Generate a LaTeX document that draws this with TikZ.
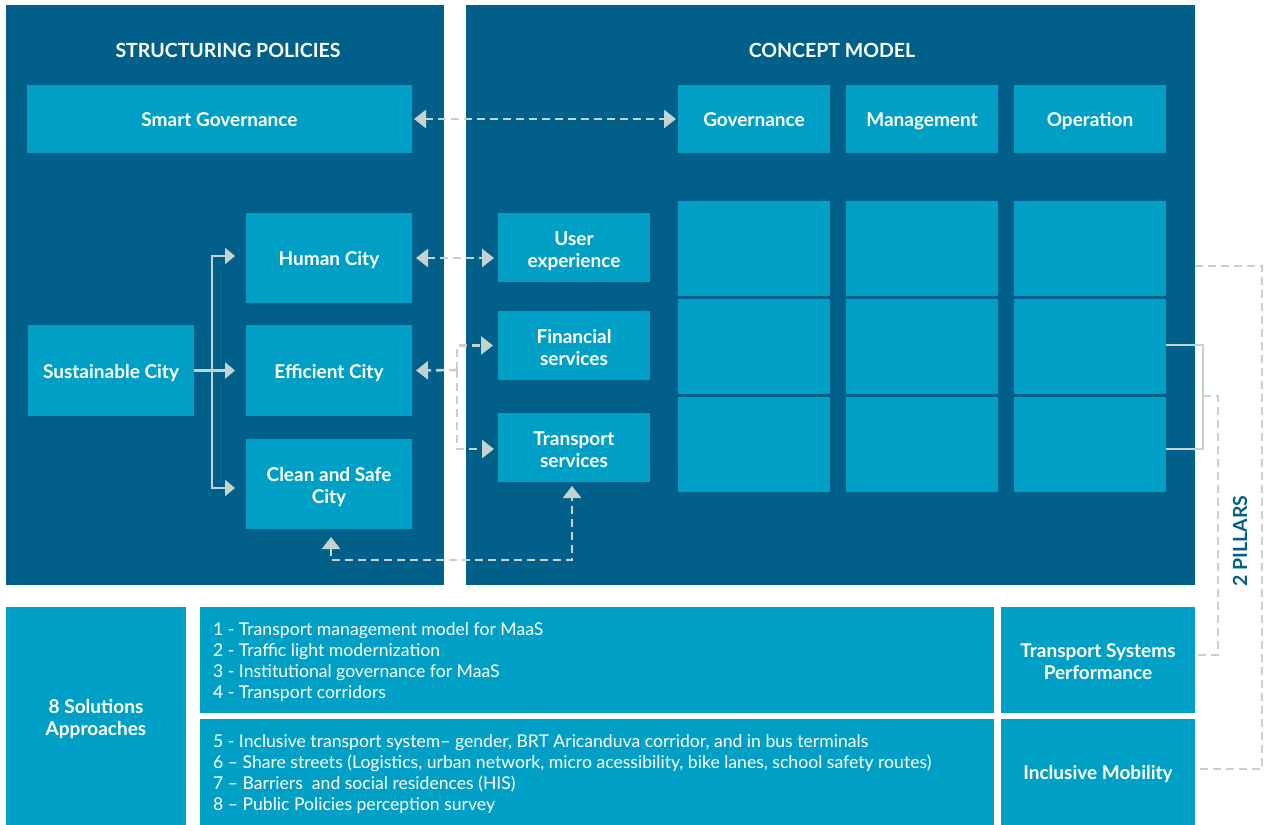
\documentclass[tikz,border=0pt]{standalone}
\usepackage{fontspec}
\setmainfont{Lato}
\usetikzlibrary{arrows.meta,calc}
\definecolor{deepblue}{HTML}{00608A}
\definecolor{boxblue}{HTML}{00A0C6}
\definecolor{linkgray}{HTML}{C4D3D0}
% fixed heights and depth around box labels so that they sit alike
\newcommand{\topstrut}{\rule{0pt}{20.7pt}}
\newcommand{\tallstrut}{\rule{0pt}{44.5pt}}
\newcommand{\botstrut}{\rule[-5pt]{0pt}{5pt}}
\begin{document}
\begin{tikzpicture}[x=1pt,y=-1pt,
  panel/.style={fill=deepblue, anchor=north west, inner sep=0pt, outer sep=0pt},
  box/.style={fill=boxblue, anchor=north west, inner sep=0pt, outer sep=0pt,
    text=white, align=center, font=\fontsize{19}{22}\selectfont\bfseries,
    execute at begin node=\topstrut, execute at end node=\botstrut},
  twoline/.style={execute at begin node=\tallstrut},
  heading/.style={text=white, font=\fontsize{19.5}{22}\selectfont\bfseries},
  listtext/.style={text=white, align=left, anchor=west, inner sep=0pt,
    font=\fontsize{17.6}{21.3}\selectfont},
  dlink/.style={draw=linkgray, line width=2.6pt, dash pattern=on 8pt off 5pt},
  rlink/.style={draw=linkgray, line width=2.2pt, dash pattern=on 8pt off 5pt},
  slink/.style={draw=linkgray, line width=2.4pt},
  bracket/.style={draw=linkgray, line width=2pt},
  tip/.style={-{Triangle[length=12pt,width=18pt]}},
  twotips/.style={{Triangle[length=12pt,width=18pt]}-{Triangle[length=12pt,width=18pt]}},
  stip/.style={-{Triangle[length=10pt,width=16pt]}}
]
% canvas
\fill[white] (0,0) rectangle (1267,825);
\useasboundingbox (0,0) rectangle (1267,825);

% panels
\node[panel, minimum width=438pt, minimum height=580pt] (leftpanel) at (6,5) {};
\node[panel, minimum width=729pt, minimum height=580pt] (rightpanel) at (466,5) {};
\node[heading] (lefttitle) at (228,50) {STRUCTURING POLICIES};
\node[heading] (righttitle) at (832,50) {CONCEPT MODEL};

% structuring policies
\node[box, minimum width=385pt, minimum height=68pt] (smart) at (27,85) {Smart Governance};
\node[box, minimum width=166pt, minimum height=91pt] (sustainable) at (28,325) {Sustainable City};
\node[box, minimum width=166pt, minimum height=90pt] (human) at (246,213) {Human City};
\node[box, minimum width=166pt, minimum height=91pt] (efficient) at (246,325) {Efficient City};
\node[box, twoline, minimum width=166pt, minimum height=90pt] (clean) at (246,439) {Clean and Safe\\City};

% concept model
\node[box, twoline, minimum width=152pt, minimum height=69pt] (userexp) at (498,213) {User\\experience};
\node[box, twoline, minimum width=152pt, minimum height=69pt] (financial) at (498,311) {Financial\\services};
\node[box, twoline, minimum width=152pt, minimum height=69pt] (transport) at (498,413) {Transport\\services};

\node[box, minimum width=152pt, minimum height=68pt] (gov) at (678,85) {Governance};
\node[box, minimum width=152pt, minimum height=68pt] (mgmt) at (846,85) {Management};
\node[box, minimum width=152pt, minimum height=68pt] (oper) at (1014,85) {Operation};

\foreach \r/\y in {1/201,2/299,3/397}{
  \node[box, minimum width=152pt, minimum height=95pt] (gov\r) at (678,\y) {};
  \node[box, minimum width=152pt, minimum height=95pt] (mgmt\r) at (846,\y) {};
  \node[box, minimum width=152pt, minimum height=95pt] (op\r) at (1014,\y) {};
}

% solutions
\node[box, twoline, minimum width=180pt, minimum height=218pt] (solutions) at (6,607) {8 Solutions\\Approaches};
\node[box, minimum width=794pt, minimum height=106pt] (listA) at (200,607) {};
\node[box, minimum width=794pt, minimum height=106pt] (listB) at (200,719) {};
\node[box, twoline, minimum width=194pt, minimum height=106pt] (tsp) at (1001,607) {Transport Systems\\Performance};
\node[box, minimum width=194pt, minimum height=106pt] (incl) at (1001,719) {Inclusive Mobility};

\node[listtext] (listAtext) at ([xshift=13pt,yshift=-2pt]listA.west) {1 - Transport management model for MaaS\\
2 - Traffic light modernization\\
3 - Institutional governance for MaaS\\
4 - Transport corridors};
\node[listtext] (listBtext) at ([xshift=13pt,yshift=-2pt]listB.west) {5 - Inclusive transport system-- gender, BRT Aricanduva corridor, and in bus terminals\\
6 -- Share streets (Logistics, urban network, micro acessibility, bike lanes, school safety routes)\\
7 -- Barriers\ \ and social residences (HIS)\\
8 -- Public Policies perception survey};

\node[rotate=90, text=deepblue, font=\fontsize{19.5}{22}\selectfont\bfseries] (pillars) at (1240,541) {2 PILLARS};

% connectors inside the panels
\draw[dlink, twotips] ([xshift=2pt]smart.east) -- ([xshift=-2pt]gov.west);
\draw[dlink, twotips] ([xshift=4pt]human.east) -- ([xshift=-4pt]human.east -| userexp.west);

\coordinate (fork) at (457,370);
\draw[dlink, tip] (fork) -- ([xshift=4pt]efficient.east);
\draw[dlink, tip] (fork) |- ([xshift=-5pt]financial.west);
\draw[dlink, tip] (fork) |- ([xshift=-4pt,yshift=-1.5pt]transport.west);

\draw[dlink, twotips] ([xshift=2pt,yshift=-8pt]clean.south) -- ++(0,23) -| ([xshift=-2pt,yshift=-4pt]transport.south);

\coordinate (trunk) at (212,370.5);
\draw[slink, stip] (sustainable.east) -- ([xshift=-11pt]efficient.west);
\draw[slink, stip] (trunk) |- ([xshift=-11pt,yshift=2pt]human.west);
\draw[slink, stip] (trunk) |- ([xshift=-11pt,yshift=-4pt]clean.west);

% pillar links on the right
\draw[bracket] ([yshift=1.5pt]op2.east) -- ++(37,0) |- ([yshift=-4pt]op3.east);
\coordinate (brkmid) at (1203,396);
\draw[rlink] (brkmid) -- ++(15,0) |- ([yshift=5pt]tsp.east);
\draw[rlink] ([yshift=-17.5pt]op1.east -| rightpanel.east) -- ++(67,0) |- ([xshift=5pt,yshift=3pt]incl.east);
\end{tikzpicture}
\end{document}
